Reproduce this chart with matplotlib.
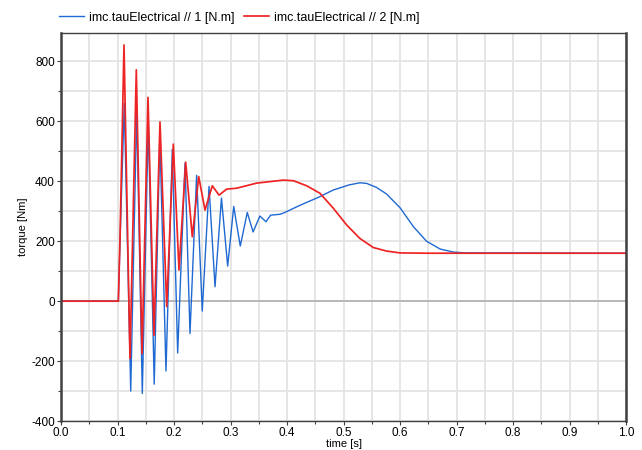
import matplotlib
matplotlib.use("Agg")
import matplotlib.pyplot as plt
from matplotlib.ticker import MultipleLocator

plt.rcParams['font.family'] = ['Liberation Sans', 'DejaVu Sans']
plt.rcParams['axes.unicode_minus'] = False

# Series 1 (blue): imc.tauElectrical // 1
t1 = [0.0, 0.1015, 0.1045, 0.112, 0.1234, 0.134, 0.1439, 0.1545, 0.165, 0.175,
      0.1858, 0.197, 0.2065, 0.2195, 0.2283, 0.240, 0.250, 0.262, 0.2726, 0.284,
      0.295, 0.3057, 0.3173, 0.3297, 0.340, 0.352, 0.3628, 0.371, 0.3876, 0.395,
      0.423, 0.455, 0.482, 0.510, 0.529, 0.541, 0.558, 0.576, 0.600, 0.624, 0.647,
      0.671, 0.694, 0.715, 1.0]
v1 = [0, 0, 200, 660, -300, 640, -308, 600, -277, 550,
      -233, 506, -173, 461, -108, 420, -33, 383, 48, 344,
      117, 316, 184, 296, 231, 284, 265, 287, 290, 295,
      320, 346, 371, 388, 395, 393, 380, 358, 312, 248, 200,
      174, 164, 161, 160]

# Series 2 (red): imc.tauElectrical // 2
t2 = [0.0, 0.1015, 0.1045, 0.1115, 0.1221, 0.1333, 0.1434, 0.154, 0.1646, 0.1752,
      0.1871, 0.1988, 0.2088, 0.2207, 0.2324, 0.2437, 0.2549, 0.2678, 0.2797, 0.2933,
      0.311, 0.3464, 0.3935, 0.4112, 0.4349, 0.4584, 0.482, 0.5057, 0.5292, 0.5527,
      0.5765, 0.600, 0.650, 1.0]
v2 = [0, 0, 215, 855, -191, 772, -175, 680, -114, 598,
      -18, 524, 104, 464, 215, 416, 304, 385, 354, 374,
      377, 394, 404, 402, 385, 360, 310, 254, 209, 179,
      167, 161, 160, 160]

labels = ['imc.tauElectrical // 1 [N.m]', 'imc.tauElectrical // 2 [N.m]']
colors = ['#1f69d2', '#ee2424']

fig = plt.figure(figsize=(6.42, 4.5), dpi=100)
ax = fig.add_axes([61/642, 1-421/450, (626-61)/642, (421-33)/450])

ax.plot(t1, v1, color=colors[0], lw=1.0, label=labels[0])
ax.plot(t2, v2, color=colors[1], lw=1.25, label=labels[1])

ax.set_xlim(0, 1.0)
ax.set_ylim(-400, 895)
ax.xaxis.set_minor_locator(MultipleLocator(0.05))
ax.yaxis.set_major_locator(MultipleLocator(200))
ax.yaxis.set_minor_locator(MultipleLocator(100))
ax.set_xticks([i / 10 for i in range(11)])
ax.set_xticklabels([f'{i / 10:.1f}' for i in range(11)])

ax.grid(True, which='both', color='#e4e4e4', lw=1.3)
ax.axhline(0, color='#b4b4b4', lw=1.3, zorder=1)
ax.set_axisbelow(True)

for s in ax.spines.values():
    s.set_color('#404040')
    s.set_linewidth(1.0)
ax.spines['left'].set_linewidth(1.8)
ax.spines['right'].set_linewidth(1.8)

ax.tick_params(which='both', direction='out', length=3, width=0.8, color='#404040',
               labelsize=8.5, pad=1.5)
ax.tick_params(which='minor', length=2)

ax.set_xlabel('time [s]', fontsize=8, labelpad=0)
ax.set_ylabel('torque [Nm]', fontsize=8, labelpad=2)

ax.legend(loc='lower left', bbox_to_anchor=(-0.016, 1.005), ncol=2, frameon=False,
          fontsize=9, handlelength=2.0, handletextpad=0.4, columnspacing=0.7,
          borderaxespad=0.2)

fig.savefig('out.png', dpi=100)
